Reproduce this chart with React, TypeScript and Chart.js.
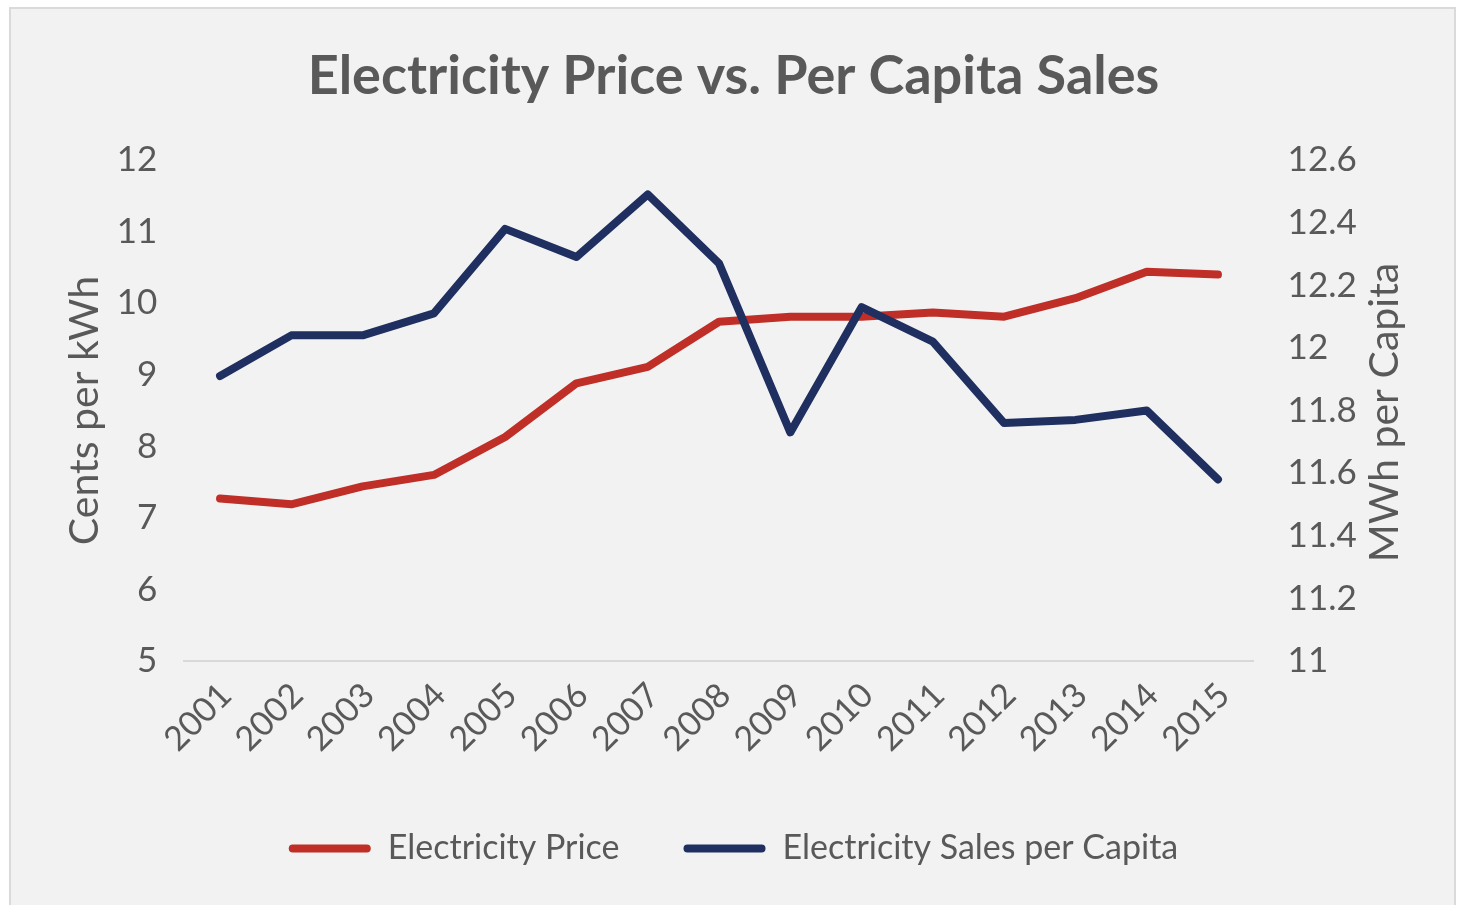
import React, { useEffect, useRef } from "react";
import { Chart, registerables } from "chart.js";

Chart.register(...registerables);

const years = ["2001","2002","2003","2004","2005","2006","2007","2008","2009","2010","2011","2012","2013","2014","2015"];
const electricityPrice = [7.27, 7.19, 7.44, 7.60, 8.13, 8.88, 9.11, 9.74, 9.81, 9.81, 9.87, 9.81, 10.07, 10.44, 10.40];
const salesPerCapita = [11.91, 12.04, 12.04, 12.11, 12.38, 12.29, 12.49, 12.27, 11.73, 12.13, 12.02, 11.76, 11.77, 11.80, 11.58];

const titleText = "Electricity Price vs. Per Capita Sales";
const leftAxisTitle = "Cents per kWh";
const rightAxisTitle = "MWh per Capita";
const seriesNames = ["Electricity Price", "Electricity Sales per Capita"];

const RED = "#bf2f28";
const BLUE = "#1f3060";
const TEXT = "#595959";
const FONT = "Lato, 'Open Sans', sans-serif";

const rightTitlePlugin = {
  id: "rightTitle",
  afterDraw(chart: any) {
    const s = chart.scales.y1;
    if (!s) return;
    const ctx = chart.ctx;
    ctx.save();
    ctx.fillStyle = TEXT;
    ctx.font = `41px ${FONT}`;
    ctx.textAlign = "center";
    ctx.textBaseline = "middle";
    const x = s.right - 24.6 - 12.4;
    const y = (s.top + s.bottom) / 2 + 2;
    ctx.translate(x, y);
    ctx.rotate(-Math.PI / 2);
    ctx.fillText(rightAxisTitle, 0, 0);
    ctx.restore();
  },
};

export default function App() {
  const ref = useRef<HTMLCanvasElement | null>(null);

  useEffect(() => {
    if (!ref.current) return;
    const chart = new Chart(ref.current, {
      type: "line",
      data: {
        labels: years,
        datasets: [
          {
            label: seriesNames[0],
            data: electricityPrice,
            borderColor: RED,
            backgroundColor: RED,
            borderWidth: 8,
            pointRadius: 0,
            tension: 0,
            borderCapStyle: "round",
            borderJoinStyle: "round",
            yAxisID: "y",
            order: 2,
          },
          {
            label: seriesNames[1],
            data: salesPerCapita,
            borderColor: BLUE,
            backgroundColor: BLUE,
            borderWidth: 8,
            pointRadius: 0,
            tension: 0,
            borderCapStyle: "round",
            borderJoinStyle: "round",
            yAxisID: "y1",
            order: 1,
          },
        ],
      },
      options: {
        responsive: false,
        animation: false,
        layout: { padding: { left: 45, right: 40, top: 20, bottom: 29.5 } },
        plugins: {
          title: {
            display: true,
            text: titleText,
            color: TEXT,
            font: { family: FONT, size: 54, weight: "bold" },
            padding: { top: 24.6, bottom: 50.6 },
          },
          legend: {
            position: "bottom",
            labels: {
              color: TEXT,
              font: { family: FONT, size: 34 },
              boxWidth: 82,
              boxHeight: 8,
              padding: 64,
              useBorderRadius: true,
              borderRadius: 4,
              sort: (a: any, b: any) => a.datasetIndex - b.datasetIndex,
              generateLabels: (c: any) =>
                Chart.defaults.plugins.legend.labels
                  .generateLabels(c)
                  .map((l: any) => ({ ...l, lineWidth: 0, fillStyle: l.strokeStyle })),
            },
          },
          tooltip: { enabled: false },
        },
        scales: {
          x: {
            offset: true,
            grid: { display: false, drawTicks: false },
            border: { display: true, color: "#d9d9d9", width: 2 },
            ticks: {
              color: TEXT,
              font: { family: FONT, size: 34 },
              minRotation: 45,
              maxRotation: 45,
              padding: 14,
              labelOffset: 6,
            },
            afterFit: (s: any) => {
              s.height = 106.5;
            },
          },
          y: {
            position: "left",
            min: 5,
            max: 12,
            grid: { display: false, drawTicks: false },
            border: { display: false },
            ticks: {
              stepSize: 1,
              color: TEXT,
              font: { family: FONT, size: 35 },
              padding: 27,
            },
            title: {
              display: true,
              text: leftAxisTitle,
              color: TEXT,
              font: { family: FONT, size: 41 },
              padding: { top: 15.4, bottom: 0 },
            },
            afterFit: (s: any) => {
              s.width = 139.4;
            },
          },
          y1: {
            position: "right",
            min: 11,
            max: 12.6,
            grid: { display: false, drawTicks: false },
            border: { display: false },
            ticks: {
              stepSize: 0.2,
              color: TEXT,
              font: { family: FONT, size: 35 },
              padding: 34,
              callback: (v: any) => String(Math.round(Number(v) * 10) / 10),
            },
            title: { display: false },
            afterFit: (s: any) => {
              s.width = 168.4;
            },
          },
        },
      },
      plugins: [rightTitlePlugin],
    });
    return () => chart.destroy();
  }, []);

  return (
    <div style={{ position: "fixed", left: 0, top: 0, width: 1462, height: 905, background: "#ffffff", overflow: "hidden" }}>
      <div
        style={{
          position: "absolute",
          left: 9,
          top: 7,
          width: 1447,
          height: 910,
          background: "#f2f2f2",
          border: "2px solid #dadada",
          boxSizing: "border-box",
        }}
      />
      <canvas ref={ref} width={1462} height={905} style={{ position: "absolute", left: 0, top: 0 }} />
    </div>
  );
}
